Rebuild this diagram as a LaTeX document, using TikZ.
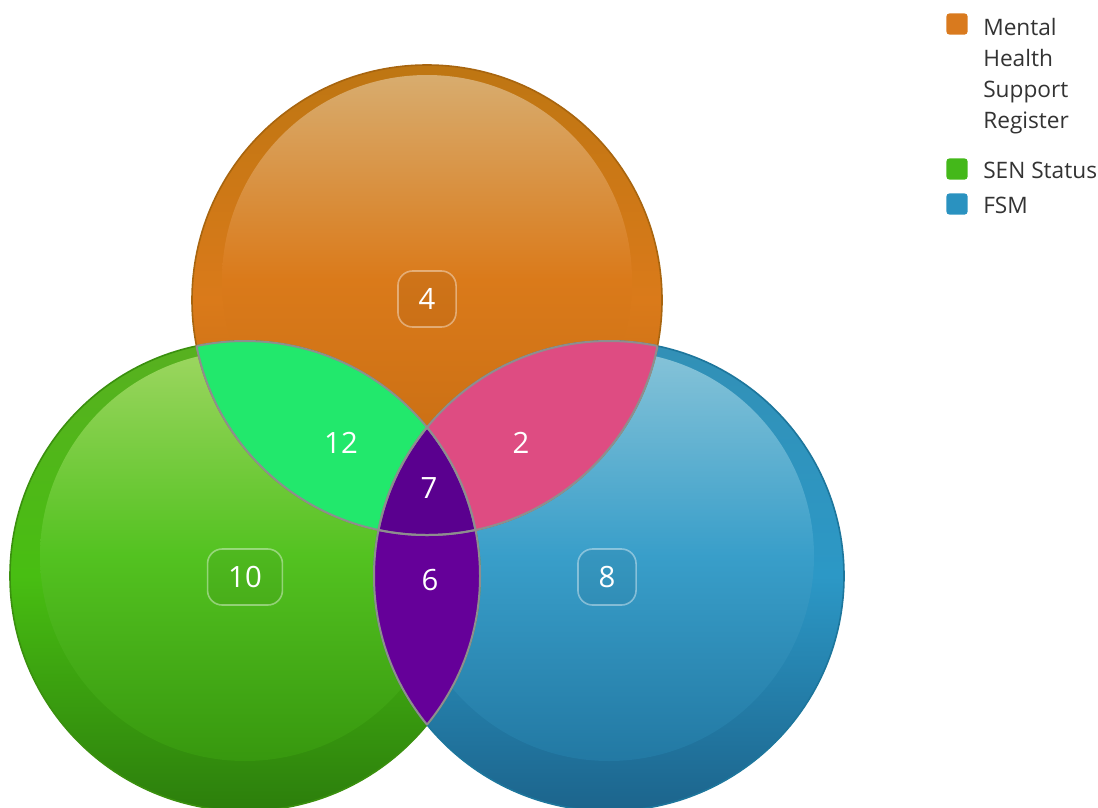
\documentclass[tikz,border=0pt]{standalone}
\usepackage{fontspec}
\setmainfont{Open Sans}
\definecolor{orTop}{HTML}{BE7612}
\definecolor{orMid}{HTML}{DA7A1A}
\definecolor{orDark}{HTML}{BA640E}
\definecolor{orTint}{HTML}{D8AC6E}
\definecolor{orEdge}{HTML}{A8650F}
\definecolor{grTop}{HTML}{58B020}
\definecolor{grMid}{HTML}{48BE12}
\definecolor{grDark}{HTML}{2C7E0C}
\definecolor{grTint}{HTML}{9CD660}
\definecolor{grEdge}{HTML}{3A900E}
\definecolor{blTop}{HTML}{3290B6}
\definecolor{blMid}{HTML}{2C98C6}
\definecolor{blDark}{HTML}{1C648C}
\definecolor{blTint}{HTML}{86C3D8}
\definecolor{blEdge}{HTML}{1D769C}
\definecolor{lensGO}{HTML}{22E86C}
\definecolor{lensOB}{HTML}{DE4C82}
\definecolor{lensGB}{HTML}{650099}
\definecolor{lensAll}{HTML}{5A008F}
\definecolor{lensLine}{HTML}{8E8E8E}
\definecolor{legOr}{HTML}{D97A1E}
\definecolor{legGr}{HTML}{44B81A}
\definecolor{legBl}{HTML}{2A92C0}
\begin{document}
\begin{tikzpicture}[x=0.75pt,y=-0.75pt,
  numtext/.style={text=white, font=\fontsize{22}{26}\selectfont, inner sep=0pt},
  numbox/.style={numtext, draw=white, draw opacity=0.4, line width=1.2pt,
     fill=black, fill opacity=0.05, text opacity=1, rounded corners=11pt,
     minimum height=42pt, inner xsep=15.5pt},
  legsq/.style={rounded corners=2.5pt, minimum size=16pt, inner sep=0pt},
  legtext/.style={font=\fontsize{17}{23.3}\selectfont, text=black!80, align=left, inner sep=0pt}]
\useasboundingbox (0,0) rectangle (1098,807);
\clip (0,0) rectangle (1098,807);
\coordinate (O) at (427,300);
\coordinate (G) at (245,576);
\coordinate (B) at (609,576);
\def\R{235}
\def\H{205}
% circles with glossy look
\shade[top color=grTop, bottom color=grDark, middle color=grMid] (G) circle[radius=\R];
\shade[top color=grTint, bottom color=grDark!60!grMid, middle color=grMid!94!white] (G) ++(0,-20) circle[radius=\H];
\shade[top color=blTop, bottom color=blDark, middle color=blMid] (B) circle[radius=\R];
\shade[top color=blTint, bottom color=blDark!60!blMid, middle color=blMid!94!white] (B) ++(0,-20) circle[radius=\H];
\shade[top color=orTop, bottom color=orDark, middle color=orMid] (O) circle[radius=\R];
\shade[top color=orTint, bottom color=orDark!60!orMid, middle color=orMid] (O) ++(0,-20) circle[radius=\H];
\draw[grEdge, line width=1.2pt] (G) circle[radius=\R];
\draw[blEdge, line width=1.2pt] (B) circle[radius=\R];
\draw[orEdge, line width=1.2pt] (O) circle[radius=\R];
% lenses
\begin{scope}\clip (G) circle[radius=\R]; \fill[lensGO] (O) circle[radius=\R];\end{scope}
\begin{scope}\clip (B) circle[radius=\R]; \fill[lensOB] (O) circle[radius=\R];\end{scope}
\begin{scope}\clip (G) circle[radius=\R]; \fill[lensGB] (B) circle[radius=\R];\end{scope}
\begin{scope}\clip (G) circle[radius=\R]; \clip (B) circle[radius=\R]; \fill[lensAll] (O) circle[radius=\R];\end{scope}
% lens outlines
\begin{scope}\clip (O) circle[radius=\R]; \draw[lensLine, line width=1.5pt] (G) circle[radius=\R]; \draw[lensLine, line width=1.5pt] (B) circle[radius=\R];\end{scope}
\begin{scope}\clip (G) circle[radius=\R]; \draw[lensLine, line width=1.5pt] (O) circle[radius=\R]; \draw[lensLine, line width=1.5pt] (B) circle[radius=\R];\end{scope}
\begin{scope}\clip (B) circle[radius=\R]; \draw[lensLine, line width=1.5pt] (O) circle[radius=\R]; \draw[lensLine, line width=1.5pt] (G) circle[radius=\R];\end{scope}
% numbers
\node[numbox] (n4) at (427,299) {4};
\node[numbox] (n10) at (245,577) {10};
\node[numbox] (n8) at (607,577) {8};
\node[numtext] (n12) at (341,443) {12};
\node[numtext] (n2) at (521,443) {2};
\node[numtext] (n7) at (429,488) {7};
\node[numtext] (n6) at (430,580) {6};
% legend
\node[legsq, fill=legOr] (sqO) at (957,24) {};
\node[legsq, fill=legGr] (sqG) at (957,169) {};
\node[legsq, fill=legBl] (sqB) at (957,204) {};
\node[legtext, anchor=base west] (tO1) at (983,35) {Mental};
\node[legtext, anchor=base west] (tO2) at (983,66) {Health};
\node[legtext, anchor=base west] (tO3) at (983,97) {Support};
\node[legtext, anchor=base west] (tO4) at (983,128) {Register};
\node[legtext, anchor=base west] (tG) at (983,178) {SEN Status};
\node[legtext, anchor=base west] (tB) at (983,213) {FSM};
\end{tikzpicture}
\end{document}
